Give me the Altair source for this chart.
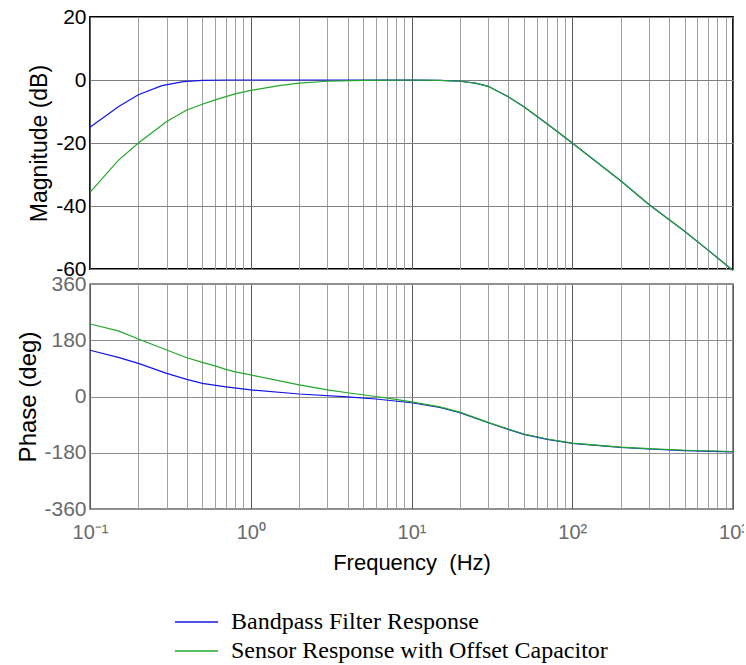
import altair as alt
import pandas as pd

SERIES = ["Bandpass Filter Response", "Sensor Response with Offset Capacitor"]
COLORS = ["#1414e6", "#22a82a"]

# Magnitude (dB)
mag_freq_blue = [0.1, 0.15, 0.2, 0.28, 0.38, 0.5, 0.7, 1, 2, 5, 10, 15, 20, 25, 30, 40, 50, 70, 100, 200, 300, 500, 700, 1000]
mag_blue = [-15, -8.5, -4.7, -1.8, -0.5, -0.1, 0, 0, 0, 0, 0, -0.1, -0.4, -1.0, -2.0, -5.3, -8.5, -14, -20, -32, -39.5, -48, -54, -60.5]
mag_freq_green = [0.1, 0.15, 0.2, 0.3, 0.4, 0.5, 0.6, 0.7, 0.8, 1, 1.5, 2, 3, 5, 10, 15, 20, 25, 30, 40, 50, 70, 100, 200, 300, 500, 700, 1000]
mag_green = [-35.7, -25.5, -20, -13.2, -9.5, -7.7, -6.3, -5.3, -4.4, -3.3, -1.8, -1.0, -0.4, -0.1, 0, -0.1, -0.4, -1.0, -2.0, -5.3, -8.5, -14, -20, -32, -39.5, -48, -54, -60.5]

# Phase (deg)
ph_freq_blue = [0.1, 0.15, 0.2, 0.3, 0.4, 0.5, 0.7, 1, 2, 4, 6, 10, 15, 20, 30, 40, 50, 70, 100, 200, 300, 500, 1000]
ph_blue = [148, 125, 106, 74, 55, 42, 31, 21, 8, -1, -8, -20, -35, -52, -84, -105, -121, -137, -150, -163, -168, -173, -177]
ph_freq_green = [0.1, 0.15, 0.2, 0.3, 0.4, 0.5, 0.6, 0.7, 0.8, 1, 2, 3, 4, 6, 8, 10, 15, 20, 30, 40, 50, 70, 100, 200, 300, 500, 1000]
ph_green = [232, 210, 184, 149, 124, 109, 98, 87, 79, 69, 37, 21, 12, 0, -9, -17, -33, -50, -83, -104, -120, -136, -149, -162, -167, -172, -176]

X_TICKS = [m * 10 ** e for e in range(-1, 3) for m in range(1, 10)] + [1000]
MAG_TICKS = [-60, -40, -20, 0, 20]
PH_TICKS = [-360, -180, 0, 180, 360]

mag_df = pd.concat([
    pd.DataFrame({"f": mag_freq_blue, "v": mag_blue, "series": SERIES[0], "o": 0}),
    pd.DataFrame({"f": mag_freq_green, "v": mag_green, "series": SERIES[1], "o": 1}),
])
ph_df = pd.concat([
    pd.DataFrame({"f": ph_freq_blue, "v": ph_blue, "series": SERIES[0], "o": 0}),
    pd.DataFrame({"f": ph_freq_green, "v": ph_green, "series": SERIES[1], "o": 1}),
])
leg_df = pd.DataFrame({"series": SERIES})

FONT = "Liberation Sans"
W = 643
decade_test = "abs(log(datum.value)/LN10 - round(log(datum.value)/LN10)) < 0.001"
grid_color = {"condition": {"test": decade_test, "value": "#5a5a5a"}, "value": "#a0a0a0"}
label_expr = (
    f"({decade_test}) ? (datum.value < 0.5 ? '10\u207b\u00b9' : datum.value < 5 ? '10\u2070' : "
    "datum.value < 50 ? '10\u00b9' : datum.value < 500 ? '10\u00b2' : '10\u00b3') : ''"
)
plain_label = "'' + datum.value"

color = alt.Color("series:N", scale=alt.Scale(domain=SERIES, range=COLORS), legend=None)

x_scale = alt.Scale(type="log", domain=[0.1, 1000], nice=False)

top = alt.Chart(mag_df).mark_line(strokeWidth=1.2).encode(
    x=alt.X("f:Q", scale=x_scale,
            axis=alt.Axis(values=X_TICKS, labels=False, ticks=False, domain=False, title=None,
                          grid=True, gridColor=grid_color, gridWidth=1)),
    y=alt.Y("v:Q", scale=alt.Scale(domain=[-60, 20], nice=False, zero=False),
            axis=alt.Axis(values=MAG_TICKS, labelExpr=plain_label, ticks=False, domain=False,
                          labelFont=FONT, labelFontSize=21, labelColor="#000000", labelPadding=4,
                          gridColor="#808080", title="Magnitude (dB)", titleFont=FONT,
                          titleFontSize=23, titleFontWeight="normal", titleColor="#000000",
                          titlePadding=4)),
    color=color,
    order="o:Q",
).properties(width=W, height=252, view={"stroke": "#000000", "strokeWidth": 1.8})

bottom = alt.Chart(ph_df).mark_line(strokeWidth=1.2).encode(
    x=alt.X("f:Q", scale=x_scale,
            axis=alt.Axis(values=X_TICKS, labelExpr=label_expr, labelOverlap=False, labelFlush=False,
                          ticks=False, domain=False, labelFont=FONT, labelFontSize=20,
                          labelColor="#6a6a6a", labelPadding=13, grid=True, gridColor=grid_color,
                          gridWidth=1, title="Frequency\u00a0 (Hz)", titleFont=FONT, titleFontSize=22,
                          titleFontWeight="normal", titleColor="#000000", titlePadding=10)),
    y=alt.Y("v:Q", scale=alt.Scale(domain=[-360, 360], nice=False, zero=False),
            axis=alt.Axis(values=PH_TICKS, labelExpr=plain_label, ticks=False, domain=False,
                          labelFont=FONT, labelFontSize=21, labelColor="#6a6a6a", labelPadding=4,
                          gridColor="#909090", title="Phase (deg)", titleFont=FONT,
                          titleFontSize=24, titleFontWeight="normal", titleColor="#000000",
                          titlePadding=3)),
    color=color,
    order="o:Q",
).properties(width=W, height=225, view={"stroke": "#6a6a6a", "strokeWidth": 1.5})

leg_y = alt.Y("series:N", scale=alt.Scale(type="point", domain=SERIES, range=[98, 127], padding=0),
              axis=None)
leg_rules = alt.Chart(leg_df).mark_rule(strokeWidth=1.5).encode(
    x=alt.value(85), x2=alt.value(128), y=leg_y, color=color)
leg_text = alt.Chart(leg_df).mark_text(align="left", baseline="middle", font="Liberation Serif",
                                       fontSize=24, color="#000000").encode(
    x=alt.value(141), y=leg_y, text="series:N")
legend = alt.layer(leg_rules, leg_text).properties(
    width=W, height=135, view={"stroke": "transparent"})

chart = alt.vconcat(top, bottom, legend, spacing=15, bounds="flush").properties(
    padding={"left": 16, "top": 5, "right": -5, "bottom": 0},
).configure(background="white")

chart.save("out.html", embed_options={"renderer": "svg", "actions": False})
